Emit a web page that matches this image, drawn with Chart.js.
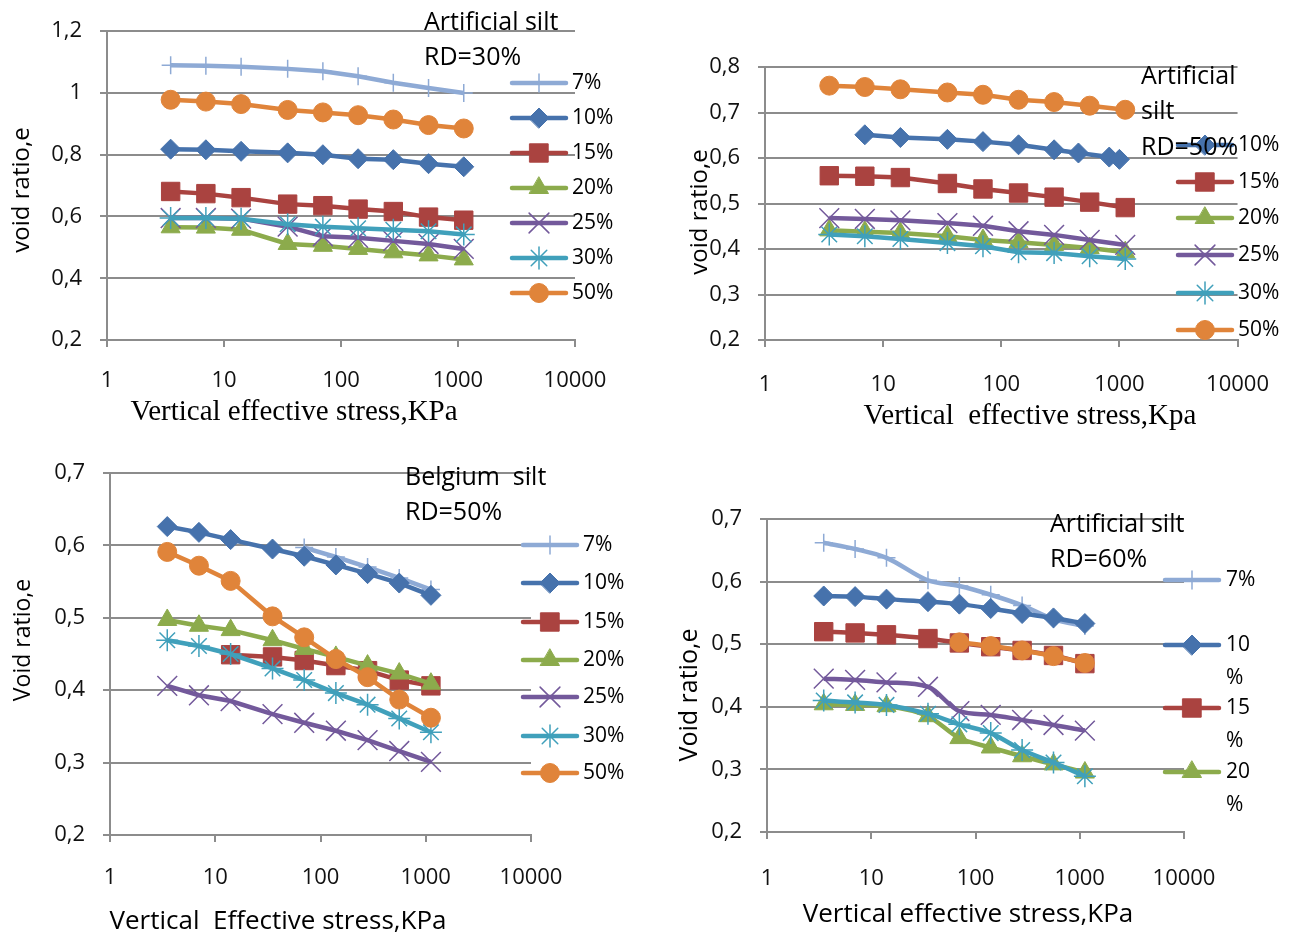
<!DOCTYPE html>
<html>
<head>
<meta charset="utf-8">
<script src="https://cdn.jsdelivr.net/npm/chart.js@4.4.1/dist/chart.umd.min.js"></script>
<style>
  body { margin: 0; background: #fff; }
  #wrap { position: relative; width: 1294px; height: 940px; overflow: hidden; }
  canvas { position: absolute; }
</style>
</head>
<body>
<div id="wrap">
  <canvas id="c1" width="647" height="440" style="left:0;top:0"></canvas>
  <canvas id="c2" width="647" height="440" style="left:647px;top:0"></canvas>
  <canvas id="c3" width="647" height="500" style="left:0;top:440px"></canvas>
  <canvas id="c4" width="647" height="500" style="left:647px;top:440px"></canvas>
</div>
<script>
// loading steps, kPa
const stress = [3.5, 7, 14, 35, 70, 140, 280, 560, 1120];
const stressFrom7 = [7, 14, 35, 70, 140, 280, 450, 820, 1000];
const stressFrom14 = [14, 35, 70, 140, 280, 560, 1120];
const stressFrom70 = [70, 140, 280, 560, 1120];
const xTicks = [1, 10, 100, 1000, 10000];

// Artificial silt, RD=30%
const a30_7  = [1.090, 1.088, 1.085, 1.078, 1.070, 1.054, 1.033, 1.016, 1.000];
const a30_10 = [0.818, 0.816, 0.811, 0.806, 0.800, 0.787, 0.784, 0.771, 0.761];
const a30_15 = [0.681, 0.674, 0.661, 0.640, 0.635, 0.624, 0.616, 0.598, 0.588];
const a30_20 = [0.565, 0.564, 0.557, 0.511, 0.505, 0.495, 0.484, 0.474, 0.461];
const a30_25 = [0.595, 0.595, 0.593, 0.567, 0.536, 0.531, 0.521, 0.511, 0.495];
const a30_30 = [0.595, 0.595, 0.593, 0.575, 0.567, 0.562, 0.557, 0.552, 0.542];
const a30_50 = [0.978, 0.972, 0.964, 0.945, 0.937, 0.928, 0.914, 0.896, 0.885];

// Artificial silt, RD=50%
const a50_10 = [0.651, 0.645, 0.641, 0.636, 0.629, 0.618, 0.611, 0.602, 0.597];
const a50_15 = [0.561, 0.560, 0.557, 0.544, 0.532, 0.523, 0.514, 0.503, 0.491];
const a50_20 = [0.441, 0.438, 0.435, 0.428, 0.420, 0.415, 0.409, 0.402, 0.393];
const a50_25 = [0.468, 0.466, 0.463, 0.457, 0.451, 0.439, 0.431, 0.420, 0.409];
const a50_30 = [0.432, 0.428, 0.422, 0.413, 0.406, 0.393, 0.391, 0.384, 0.378];
const a50_50 = [0.759, 0.756, 0.751, 0.744, 0.739, 0.728, 0.723, 0.715, 0.706];

// Belgium silt, RD=50%
const b50_7  = [0.597, 0.584, 0.570, 0.555, 0.539];
const b50_10 = [0.626, 0.618, 0.608, 0.595, 0.585, 0.573, 0.561, 0.548, 0.531];
const b50_15 = [0.449, 0.446, 0.441, 0.434, 0.427, 0.414, 0.406];
const b50_20 = [0.497, 0.489, 0.483, 0.469, 0.457, 0.446, 0.434, 0.423, 0.409];
const b50_25 = [0.406, 0.393, 0.385, 0.367, 0.355, 0.344, 0.331, 0.316, 0.301];
const b50_30 = [0.469, 0.461, 0.450, 0.430, 0.414, 0.396, 0.380, 0.361, 0.342];
const b50_50 = [0.591, 0.572, 0.551, 0.502, 0.473, 0.443, 0.418, 0.387, 0.362];

// Artificial silt, RD=60%
const a60_7  = [0.662, 0.652, 0.638, 0.602, 0.593, 0.579, 0.562, 0.540, 0.529];
const a60_10 = [0.577, 0.576, 0.572, 0.568, 0.564, 0.557, 0.549, 0.542, 0.533];
const a60_15 = [0.520, 0.518, 0.515, 0.509, 0.502, 0.496, 0.490, 0.482, 0.469];
const a60_20 = [0.404, 0.403, 0.401, 0.385, 0.350, 0.335, 0.321, 0.308, 0.295];
const a60_25 = [0.445, 0.443, 0.439, 0.432, 0.393, 0.387, 0.379, 0.371, 0.362];
const a60_30 = [0.410, 0.407, 0.403, 0.389, 0.372, 0.358, 0.331, 0.311, 0.289];
const a60_50 = [0.503, 0.497, 0.490, 0.481, 0.470];

const SANS = '"Open Sans", Lato, sans-serif';
const SERIF = '"Liberation Serif", "DejaVu Serif", serif';
const GRID = '#8c8c8c';

const styles = {
  '7%':  { color: '#8eaad5', shape: 'cross',    r: 9,    bw: 1.5 },
  '10%': { color: '#4672ac', shape: 'rectRot',  r: 10,   bw: 1 },
  '15%': { color: '#aa4340', shape: 'rect',     r: 13,   bw: 1 },
  '20%': { color: '#8cab4c', shape: 'triangle', r: 11,   bw: 1 },
  '25%': { color: '#73599b', shape: 'crossRot', r: 14,   bw: 1.5 },
  '30%': { color: '#40a0bb', shape: 'star',     r: 11,   bw: 1.5 },
  '50%': { color: '#e0843a', shape: 'circle',   r: 9.5,  bw: 1 }
};
const order = ['7%', '10%', '15%', '20%', '25%', '30%', '50%'];

// panels: page coordinates; canvases are offset by (ox, oy)
const panels = [
  {
    id: 'c1', ox: 0, oy: 0, area: { l: 107, t: 18, r: 575, b: 340 },
    yMin: 0.2, yMax: 1.2, yTicks: [0.2, 0.4, 0.6, 0.8, 1, 1.2], xPad: 21,
    series: [['7%', stress, a30_7], ['10%', stress, a30_10], ['15%', stress, a30_15],
             ['20%', stress, a30_20], ['25%', stress, a30_25], ['30%', stress, a30_30], ['50%', stress, a30_50]],
    smooth: false,
    notes: [['Artificial silt', 424, 23], ['RD=30%', 424, 58]],
    legendX: 512, legendTextX: 572,
    legend: [['7%', 83], ['10%', 118], ['15%', 153], ['20%', 188], ['25%', 223], ['30%', 258], ['50%', 293]],
    yTitle: ['void ratio,e', 22, 190, 24],
    xTitle: ['Vertical effective stress,KPa', 294, 412, SERIF, 29]
  },
  {
    id: 'c2', ox: 647, oy: 0, area: { l: 765, t: 67, r: 1243, b: 340 },
    yMin: 0.2, yMax: 0.8, yTicks: [0.2, 0.3, 0.4, 0.5, 0.6, 0.7, 0.8], xPad: 25,
    series: [['10%', stressFrom7, a50_10], ['15%', stress, a50_15], ['20%', stress, a50_20],
             ['25%', stress, a50_25], ['30%', stress, a50_30], ['50%', stress, a50_50]],
    smooth: false,
    notes: [['Artificial', 1141, 77], ['silt', 1141, 112], ['RD=50%', 1141, 148]],
    legendX: 1178, legendTextX: 1238,
    legend: [['10%', 145], ['15%', 182], ['20%', 218], ['25%', 255], ['30%', 293], ['50%', 330]],
    yTitle: ['void ratio,e', 700, 212, 24],
    xTitle: ['Vertical  effective stress,Kpa', 1030, 416, SERIF, 29]
  },
  {
    id: 'c3', ox: 0, oy: 440, area: { l: 110, t: 473, r: 531, b: 835 },
    yMin: 0.2, yMax: 0.7, yTicks: [0.2, 0.3, 0.4, 0.5, 0.6, 0.7], xPad: 23,
    series: [['7%', stressFrom70, b50_7], ['10%', stress, b50_10], ['15%', stressFrom14, b50_15],
             ['20%', stress, b50_20], ['25%', stress, b50_25], ['30%', stress, b50_30], ['50%', stress, b50_50]],
    smooth: false,
    notes: [['Belgium  silt', 405, 478], ['RD=50%', 405, 513]],
    legendX: 523, legendTextX: 583,
    legend: [['7%', 545], ['10%', 583], ['15%', 622], ['20%', 660], ['25%', 697], ['30%', 736], ['50%', 773]],
    yTitle: ['Void ratio,e', 23, 640, 23],
    xTitle: ['Vertical  Effective stress,KPa', 278, 922, SANS, 26]
  },
  {
    id: 'c4', ox: 647, oy: 440, area: { l: 767, t: 519, r: 1184, b: 832 },
    yMin: 0.2, yMax: 0.7, yTicks: [0.2, 0.3, 0.4, 0.5, 0.6, 0.7], xPad: 27,
    series: [['7%', stress, a60_7], ['10%', stress, a60_10], ['15%', stress, a60_15],
             ['20%', stress, a60_20], ['25%', stress, a60_25], ['30%', stress, a60_30], ['50%', stressFrom70, a60_50]],
    smooth: true,
    notes: [['Artificial silt', 1050, 525], ['RD=60%', 1050, 560]],
    legendX: 1165, legendTextX: 1226,
    legend: [['7%', 580], ['10', 645, '%'], ['15', 708, '%'], ['20', 772, '%']],
    yTitle: ['Void ratio,e', 690, 695, 25],
    xTitle: ['Vertical effective stress,KPa', 968, 915, SANS, 26]
  }
];

function marker(ctx, st, x, y) {
  ctx.fillStyle = st.color;
  ctx.strokeStyle = st.color;
  ctx.lineWidth = st.bw;
  Chart.helpers.drawPoint(ctx, { pointStyle: st.shape, radius: st.r, borderWidth: st.bw, rotation: 0 }, x, y);
}

function textPlugin(p) {
  return {
    id: 'panelText',
    afterDraw(chart) {
      const ctx = chart.ctx;
      ctx.save();
      ctx.translate(-p.ox, -p.oy);
      ctx.textBaseline = 'middle';

      // legend: line with marker, then label
      p.legend.forEach(([name, y, second]) => {
        const st = styles[second ? name + '%' : name];
        ctx.strokeStyle = st.color;
        ctx.lineWidth = 4.5;
        ctx.lineCap = 'round';
        ctx.beginPath();
        ctx.moveTo(p.legendX, y);
        ctx.lineTo(p.legendX + 54, y);
        ctx.stroke();
        marker(ctx, st, p.legendX + 27, y);
        ctx.fillStyle = '#000';
        ctx.font = '21px ' + SANS;
        ctx.textAlign = 'left';
        ctx.fillText(name, p.legendTextX, y);
        if (second) ctx.fillText(second, p.legendTextX, y + 33);
      });

      ctx.fillStyle = '#000';
      ctx.font = '25px ' + SANS;
      ctx.textAlign = 'left';
      p.notes.forEach(([t, x, y]) => ctx.fillText(t, x, y));

      const [xt, xx, xy, xf, xs] = p.xTitle;
      ctx.font = xs + 'px ' + xf;
      ctx.textAlign = 'center';
      ctx.fillText(xt, xx, xy);

      const [yt, yx, yy, ys] = p.yTitle;
      ctx.save();
      ctx.translate(yx, yy);
      ctx.rotate(-Math.PI / 2);
      ctx.font = ys + 'px ' + SANS;
      ctx.fillText(yt, 0, 0);
      ctx.restore();

      ctx.restore();
    }
  };
}

panels.forEach(p => {
  const canvas = document.getElementById(p.id);
  const W = canvas.width, H = canvas.height;
  // axis boxes take nearly all the room outside the plot area, so labels are never clipped
  const Y_W = p.area.l - p.ox - 4;
  const X_H = H - (p.area.b - p.oy) - 4;
  const datasets = p.series.map(([name, xs, ys]) => {
    const st = styles[name];
    const i = order.indexOf(name);
    return {
      label: name,
      data: xs.map((x, k) => ({ x: x, y: ys[k] })),
      borderColor: st.color,
      backgroundColor: st.color,
      borderWidth: 4.5,
      pointStyle: st.shape,
      pointRadius: st.r,
      pointHoverRadius: st.r,
      pointBorderWidth: st.bw,
      pointBackgroundColor: st.color,
      pointBorderColor: st.color,
      tension: 0,
      cubicInterpolationMode: p.smooth ? 'monotone' : 'default',
      order: 100 - i
    };
  });

  new Chart(canvas, {
    type: 'line',
    data: { datasets },
    options: {
      responsive: false,
      animation: false,
      events: [],
      layout: {
        padding: {
          left: 4,
          top: p.area.t - p.oy,
          right: W - (p.area.r - p.ox),
          bottom: 4
        }
      },
      plugins: { legend: { display: false }, tooltip: { enabled: false } },
      scales: {
        x: {
          type: 'logarithmic',
          min: 1,
          max: 10000,
          afterBuildTicks: s => { s.ticks = xTicks.map(v => ({ value: v })); },
          afterFit: s => { s.height = X_H; },
          border: { display: true, color: GRID, width: 2 },
          grid: { drawOnChartArea: false, drawTicks: true, tickLength: 7, color: GRID, lineWidth: 2 },
          ticks: {
            padding: p.xPad, color: '#111', maxRotation: 0, autoSkip: false,
            font: { family: SANS, size: 22 },
            callback: v => String(v)
          }
        },
        y: {
          min: p.yMin,
          max: p.yMax,
          afterBuildTicks: s => { s.ticks = p.yTicks.map(v => ({ value: v })); },
          afterFit: s => { s.width = Y_W; },
          border: { display: true, color: GRID, width: 2 },
          grid: { color: GRID, lineWidth: 2, tickLength: 7 },
          ticks: {
            padding: 18, color: '#111',
            font: { family: SANS, size: 22 },
            callback: v => String(v).replace('.', ',')
          }
        }
      }
    },
    plugins: [textPlugin(p)]
  });
});
</script>
</body>
</html>
